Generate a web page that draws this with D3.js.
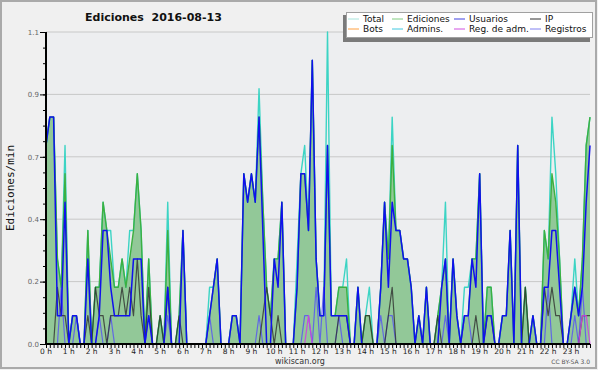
<!DOCTYPE html>
<html>
<head>
<meta charset="utf-8">
<script src="https://cdn.jsdelivr.net/npm/d3@7"></script>
<style>
body { margin: 0; background: #fff; }
svg { display: block; }
</style>
</head>
<body>
<div class="chart"></div>
<script>

// hour labels, one every 6 points (10 min steps)
var hours = ["0 h","1 h","2 h","3 h","4 h","5 h","6 h","7 h","8 h","9 h","10 h","11 h",
             "12 h","13 h","14 h","15 h","16 h","17 h","18 h","19 h","20 h","21 h","22 h","23 h"];

var yTicks = [0, 0.22, 0.44, 0.66, 0.88, 1.1];

var legendNames = ["Total", "Ediciones", "Usuarios", "IP", "Bots", "Admins.", "Reg. de adm.", "Registros"];
var legendColors = ["#a8e4dc", "#80cc80", "#4040e0", "#303030", "#ffa040", "#40c8e0", "#d050e0", "#8080f0"];

// edits per minute, 10 minute steps
var total = [0.7,0.8,0.8,0.3,0.2,0.7,0,0.1,0.1,0,0,0.4,
             0,0.2,0.2,0.5,0.4,0.4,0.2,0.2,0.3,0.2,0.4,0.4,
             0.6,0.4,0,0.3,0,0,0.1,0,0.5,0,0,0.1,
             0.4,0,0,0,0,0,0,0.2,0.2,0.3,0,0,
             0,0.1,0.1,0,0.6,0.5,0.6,0.5,0.9,0.5,0.2,0.1,
             0.3,0.3,0.5,0,0,0,0.3,0.6,0.7,0.4,1.0,0.3,
             0.1,0.1,1.1,0.1,0.1,0.2,0.2,0.3,0,0,0.2,0,
             0.1,0.2,0,0,0.2,0.5,0.3,0.8,0.4,0.4,0.3,0.3,
             0.2,0,0.1,0,0.2,0,0,0.1,0.2,0.5,0,0.3,
             0.1,0,0.2,0.2,0.3,0.3,0.6,0,0.2,0.2,0,0,
             0.1,0.1,0.4,0,0.7,0,0.2,0,0.1,0,0,0.4,
             0.3,0.8,0.6,0.3,0,0,0.1,0.3,0.1,0.3,0.7,0.8];

var edits = [0.7,0.8,0.8,0.3,0.2,0.6,0,0.1,0.1,0,0,0.4,
             0,0.2,0.2,0.5,0.4,0.3,0.2,0.2,0.3,0.2,0.3,0.4,
             0.6,0.4,0,0.3,0,0,0.1,0,0.4,0,0,0.1,
             0.4,0,0,0,0,0,0,0.1,0.2,0.3,0,0,
             0,0.1,0.1,0,0.6,0.5,0.6,0.5,0.8,0.5,0.2,0.1,
             0.3,0.3,0.5,0,0,0,0.2,0.6,0.6,0.4,1.0,0.3,
             0.1,0.1,0.7,0.1,0.1,0.2,0.2,0.2,0,0,0.2,0,
             0.1,0.1,0,0,0.2,0.5,0.3,0.7,0.4,0.4,0.3,0.3,
             0.2,0,0.1,0,0.2,0,0,0.1,0.2,0.3,0,0.3,
             0.1,0,0.1,0.1,0.3,0.3,0.6,0,0.2,0.2,0,0,
             0.1,0.1,0.4,0,0.7,0,0.2,0,0.1,0,0,0.4,
             0.3,0.6,0.5,0.3,0,0,0.1,0.2,0.1,0.3,0.7,0.8];

var users = [0.7,0.8,0.8,0.1,0.1,0.5,0,0.1,0.1,0,0,0.3,
             0,0,0.1,0.4,0.4,0.2,0.1,0.1,0.1,0.1,0.1,0.3,
             0.3,0.3,0,0.1,0,0,0,0,0.2,0,0,0,
             0.4,0,0,0,0,0,0,0.1,0.2,0.3,0,0,
             0,0.1,0.1,0,0.6,0.5,0.6,0.5,0.8,0.4,0,0,
             0.3,0.2,0.5,0,0,0,0.2,0.6,0.6,0.4,1.0,0.3,
             0.1,0.1,0.7,0.1,0.1,0.1,0.1,0.1,0,0,0.2,0,
             0,0,0,0,0.2,0.5,0.2,0.5,0.4,0.4,0.3,0.3,
             0.2,0,0.1,0,0.2,0,0,0,0.2,0.3,0,0.3,
             0.1,0,0.1,0.1,0.3,0.2,0.6,0,0.1,0.1,0,0,
             0.1,0.1,0.4,0,0.7,0,0,0,0.1,0,0,0.2,
             0.2,0.4,0.4,0.2,0,0,0.1,0.2,0.1,0.2,0.5,0.7];

var ip = [0,0,0,0.2,0.1,0.1,0,0,0,0,0,0.1,
          0,0.2,0.1,0.1,0,0.1,0.1,0.1,0.2,0.1,0.2,0.1,
          0.3,0.1,0,0.2,0,0,0.1,0,0.2,0,0,0.1,
          0,0,0,0,0,0,0,0,0,0,0,0,
          0,0,0,0,0,0,0,0,0,0.1,0.2,0.1,
          0,0.1,0,0,0,0,0,0,0,0,0,0,
          0,0,0,0,0,0.1,0.1,0.1,0,0,0,0,
          0.1,0.1,0,0,0,0,0.1,0.2,0,0,0,0,
          0,0,0,0,0,0,0,0.1,0,0,0,0,
          0,0,0,0,0,0.1,0,0,0.1,0.1,0,0,
          0,0,0,0,0,0,0.2,0,0,0,0,0.2,
          0.1,0.2,0.1,0.1,0,0,0,0,0,0.1,0.1,0.1];

var logs = [0,0,0,0,0.2,0,0,0,0.1,0,0,0,
            0,0,0.1,0,0,0.1,0,0,0,0,0,0,
            0,0,0,0.1,0,0,0,0,0.1,0,0,0,
            0,0,0,0,0,0,0,0.1,0,0,0,0,
            0,0,0,0,0,0,0,0,0.1,0,0,0,
            0,0,0,0,0,0,0,0,0.1,0.1,0,0.2,
            0,0.2,0,0,0,0.1,0,0,0,0,0,0,
            0,0,0,0,0.1,0,0.1,0.1,0,0,0,0,
            0,0,0,0,0,0,0,0,0,0.1,0,0,
            0,0,0.1,0.1,0,0,0,0,0,0,0,0,
            0,0,0,0,0,0,0,0,0,0,0,0,
            0.2,0,0,0,0,0,0,0.1,0,0.2,0,0];

var adminLogs = [0,0,0,0,0,0,0,0,0,0,0,0,
                 0,0,0,0,0,0,0,0,0,0,0,0,
                 0,0,0,0,0,0,0,0,0,0,0,0,
                 0,0,0,0,0,0,0,0,0,0,0,0,
                 0,0,0,0,0,0,0,0,0,0,0,0,
                 0,0,0,0,0,0,0,0,0,0.1,0,0,
                 0,0,0,0,0,0,0,0,0,0,0,0,
                 0,0,0,0,0,0,0,0,0,0,0,0,
                 0,0,0,0,0,0,0,0,0,0,0,0,
                 0,0,0,0,0,0,0,0,0,0,0,0,
                 0,0,0,0,0,0,0,0,0,0,0,0,
                 0,0,0,0,0,0,0,0,0,0.1,0.1,0];


var svgWidth = 600;
var svgHeight = 370;
var margin = {top: 32, right: 10, bottom: 26, left: 46};
var width = svgWidth - margin.left - margin.right;
var height = svgHeight - margin.top - margin.bottom;

var svg = d3.select(".chart")
    .append("svg")
    .attr("width", svgWidth)
    .attr("height", svgHeight);

// background and frame
svg.append("rect")
    .attr("x", 0).attr("y", 0)
    .attr("width", 598).attr("height", 370)
    .style("fill", "#f0f0f0");
svg.append("rect")
    .attr("x", 1).attr("y", 1)
    .attr("width", 595).attr("height", 367)
    .style("fill", "none")
    .style("stroke", "#aaaaaa")
    .style("stroke-width", 2);

var chart = svg.append("g")
    .attr("transform", "translate(" + margin.left + "," + margin.top + ")");

var xScale = d3.scaleLinear().domain([0, total.length - 1]).range([0, width]);
var yScale = d3.scaleLinear().domain([0, 1.1]).range([height, 0]);

chart.append("rect")
    .attr("width", width).attr("height", height)
    .style("fill", "#edeef0");

// grid
chart.selectAll(".grid")
    .data(yTicks)
    .enter()
    .append("line")
    .attr("x1", 0).attr("x2", width)
    .attr("y1", function(d) { return yScale(d); })
    .attr("y2", function(d) { return yScale(d); })
    .style("stroke", "#c8c8c8")
    .style("stroke-width", 1);

// series
var area = d3.area()
    .x(function(d, i) { return xScale(i); })
    .y0(yScale(0))
    .y1(function(d) { return yScale(d); });

function line() {
    return d3.line()
        .x(function(d, i) { return xScale(i); })
        .y(function(d) { return yScale(d); });
}

chart.append("path")
    .datum(edits)
    .attr("d", area)
    .style("fill", "#92c898");

function drawLine(data, color, w, op) {
    chart.append("path")
        .datum(data)
        .attr("d", line())
        .style("fill", "none")
        .style("stroke", color)
        .style("stroke-width", w)
        .style("stroke-linejoin", "round")
        .style("opacity", op);
}

drawLine(total, "#3cd4c4", 1.4, 1);
drawLine(edits, "#3cb040", 1.4, 1);
drawLine(logs, "#5858f0", 1.2, 0.85);
drawLine(ip, "#303030", 1.2, 0.8);
drawLine(adminLogs, "#d040e0", 1.2, 0.9);
drawLine(users, "#1010ee", 1.5, 1);

// y axis
var yMinor = chart.append("g")
    .call(d3.axisLeft(yScale).tickValues(d3.range(0, 1.1001, 0.055)).tickSize(3).tickFormat(""));
yMinor.select(".domain").remove();
yMinor.selectAll("line").style("stroke", "#000");

var yAxis = chart.append("g")
    .call(d3.axisLeft(yScale).tickValues(yTicks).tickSize(6).tickPadding(1).tickFormat(d3.format(".1f")));
yAxis.select(".domain").remove();
yAxis.selectAll("line").style("stroke", "#000");
yAxis.selectAll("text")
    .style("font-family", "DejaVu Sans")
    .style("font-size", "7px")
    .style("fill", "#666");

// x axis
var xMinor = chart.append("g")
    .attr("transform", "translate(0," + height + ")")
    .call(d3.axisBottom(xScale).tickValues(d3.range(0, total.length)).tickSize(4).tickFormat(""));
xMinor.select(".domain").remove();
xMinor.selectAll("line").style("stroke", "#000");

chart.selectAll(".hour")
    .data(hours)
    .enter()
    .append("text")
    .attr("x", function(d, i) { return xScale(i * 6); })
    .attr("y", height + 10)
    .attr("text-anchor", "middle")
    .style("font-family", "DejaVu Sans")
    .style("font-size", "7.5px")
    .style("fill", "#222")
    .text(function(d) { return d; });

chart.append("line")
    .attr("x1", 0).attr("x2", width)
    .attr("y1", height).attr("y2", height)
    .style("stroke", "#000").style("stroke-width", 2);
chart.append("line")
    .attr("x1", 0).attr("x2", 0)
    .attr("y1", 0).attr("y2", height)
    .style("stroke", "#000").style("stroke-width", 2);

// labels
svg.append("text")
    .attr("x", 85)
    .attr("y", 21)
    .style("font-family", "DejaVu Sans")
    .style("font-weight", "bold")
    .style("font-size", "11px")
    .style("white-space", "pre")
    .style("fill", "#111")
    .text("Ediciones  2016-08-13");

svg.append("text")
    .attr("transform", "translate(14," + (margin.top + height / 2) + ") rotate(-90)")
    .attr("text-anchor", "middle")
    .style("font-family", "DejaVu Sans Mono")
    .style("font-size", "11px")
    .style("fill", "#111")
    .text("Ediciones/min");

svg.append("text")
    .attr("x", 300)
    .attr("y", 364)
    .attr("text-anchor", "middle")
    .style("font-family", "DejaVu Sans")
    .style("font-size", "8px")
    .style("fill", "#333")
    .text("wikiscan.org");

svg.append("text")
    .attr("x", 590)
    .attr("y", 364)
    .attr("text-anchor", "end")
    .style("font-family", "DejaVu Sans")
    .style("font-size", "6px")
    .style("fill", "#555")
    .text("CC BY-SA 3.0");

// legend
var legend = svg.append("g");
legend.append("rect")
    .attr("x", 343).attr("y", 15)
    .attr("width", 247).attr("height", 27)
    .style("fill", "#7a7a7a");
legend.append("rect")
    .attr("x", 346.5).attr("y", 12.5)
    .attr("width", 246).attr("height", 25)
    .style("fill", "#fff")
    .style("stroke", "#a0a0a0");

var colX = [348, 392, 454, 530];
var items = legend.selectAll(".item")
    .data(legendNames)
    .enter()
    .append("g")
    .attr("transform", function(d, i) {
        return "translate(" + colX[i % 4] + "," + (i < 4 ? 19 : 29) + ")";
    });
items.append("line")
    .attr("x1", 0).attr("x2", 11)
    .style("stroke", function(d, i) { return legendColors[i]; })
    .style("stroke-width", 1);
items.append("text")
    .attr("x", 15)
    .attr("y", 3.2)
    .style("font-family", "DejaVu Sans")
    .style("font-size", "9px")
    .style("fill", "#111")
    .text(function(d) { return d; });

</script>
</body>
</html>
